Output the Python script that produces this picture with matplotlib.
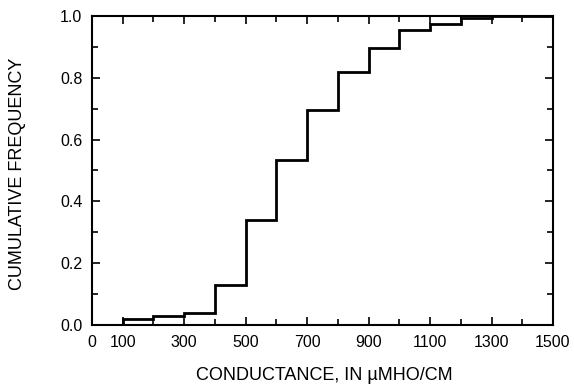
import numpy as np
import matplotlib
matplotlib.use("Agg")
import matplotlib.pyplot as plt

plt.rcParams['font.family'] = ['Liberation Sans', 'DejaVu Sans']

# bin edges (conductance) and cumulative frequency for each bin
edges = [0, 100, 200, 300, 400, 500, 600, 700, 800, 900, 1000, 1100, 1200, 1300, 1400, 1500]
cumfreq = [0.0, 0.02, 0.03, 0.04, 0.13, 0.34, 0.535, 0.695, 0.82, 0.895, 0.955, 0.975, 0.993, 1.0, 1.0]
xticklabels = ['0', '100', '300', '500', '700', '900', '1100', '1300', '1500']
xtickpos = [0, 100, 300, 500, 700, 900, 1100, 1300, 1500]

fig = plt.figure(figsize=(5.74, 3.91), dpi=100)
ax = fig.add_axes([92/574, 1 - 325/391, 461/574, 309/391])

ax.stairs(cumfreq, edges, color='black', lw=2)

ax.set_xlim(0, 1500)
ax.set_ylim(0, 1.0)
ax.set_xticks(xtickpos)
ax.set_xticklabels(xticklabels)
ax.set_xticks([200, 400, 600, 800, 1000, 1200, 1400], minor=True)
ax.set_yticks(np.arange(0, 1.01, 0.2))
ax.set_yticklabels(['0.0', '0.2', '0.4', '0.6', '0.8', '1.0'])
ax.set_yticks(np.arange(0.1, 1.0, 0.2), minor=True)

ax.tick_params(which='both', direction='in', top=True, right=True, labelsize=11.5, width=1.2)
ax.tick_params(which='major', length=6)
ax.tick_params(which='minor', length=4)
ax.tick_params(axis='x', pad=7)
ax.tick_params(axis='y', pad=7)
for s in ax.spines.values():
    s.set_linewidth(1.5)

fig.text(18/574, 1 - 174/391, 'CUMULATIVE FREQUENCY', rotation=90,
         ha='center', va='center', fontsize=13)
fig.text(324/574, 1 - 375/391, 'CONDUCTANCE, IN \u00b5MHO/CM',
         ha='center', va='center', fontsize=13)

fig.savefig('out.png', dpi=100)
